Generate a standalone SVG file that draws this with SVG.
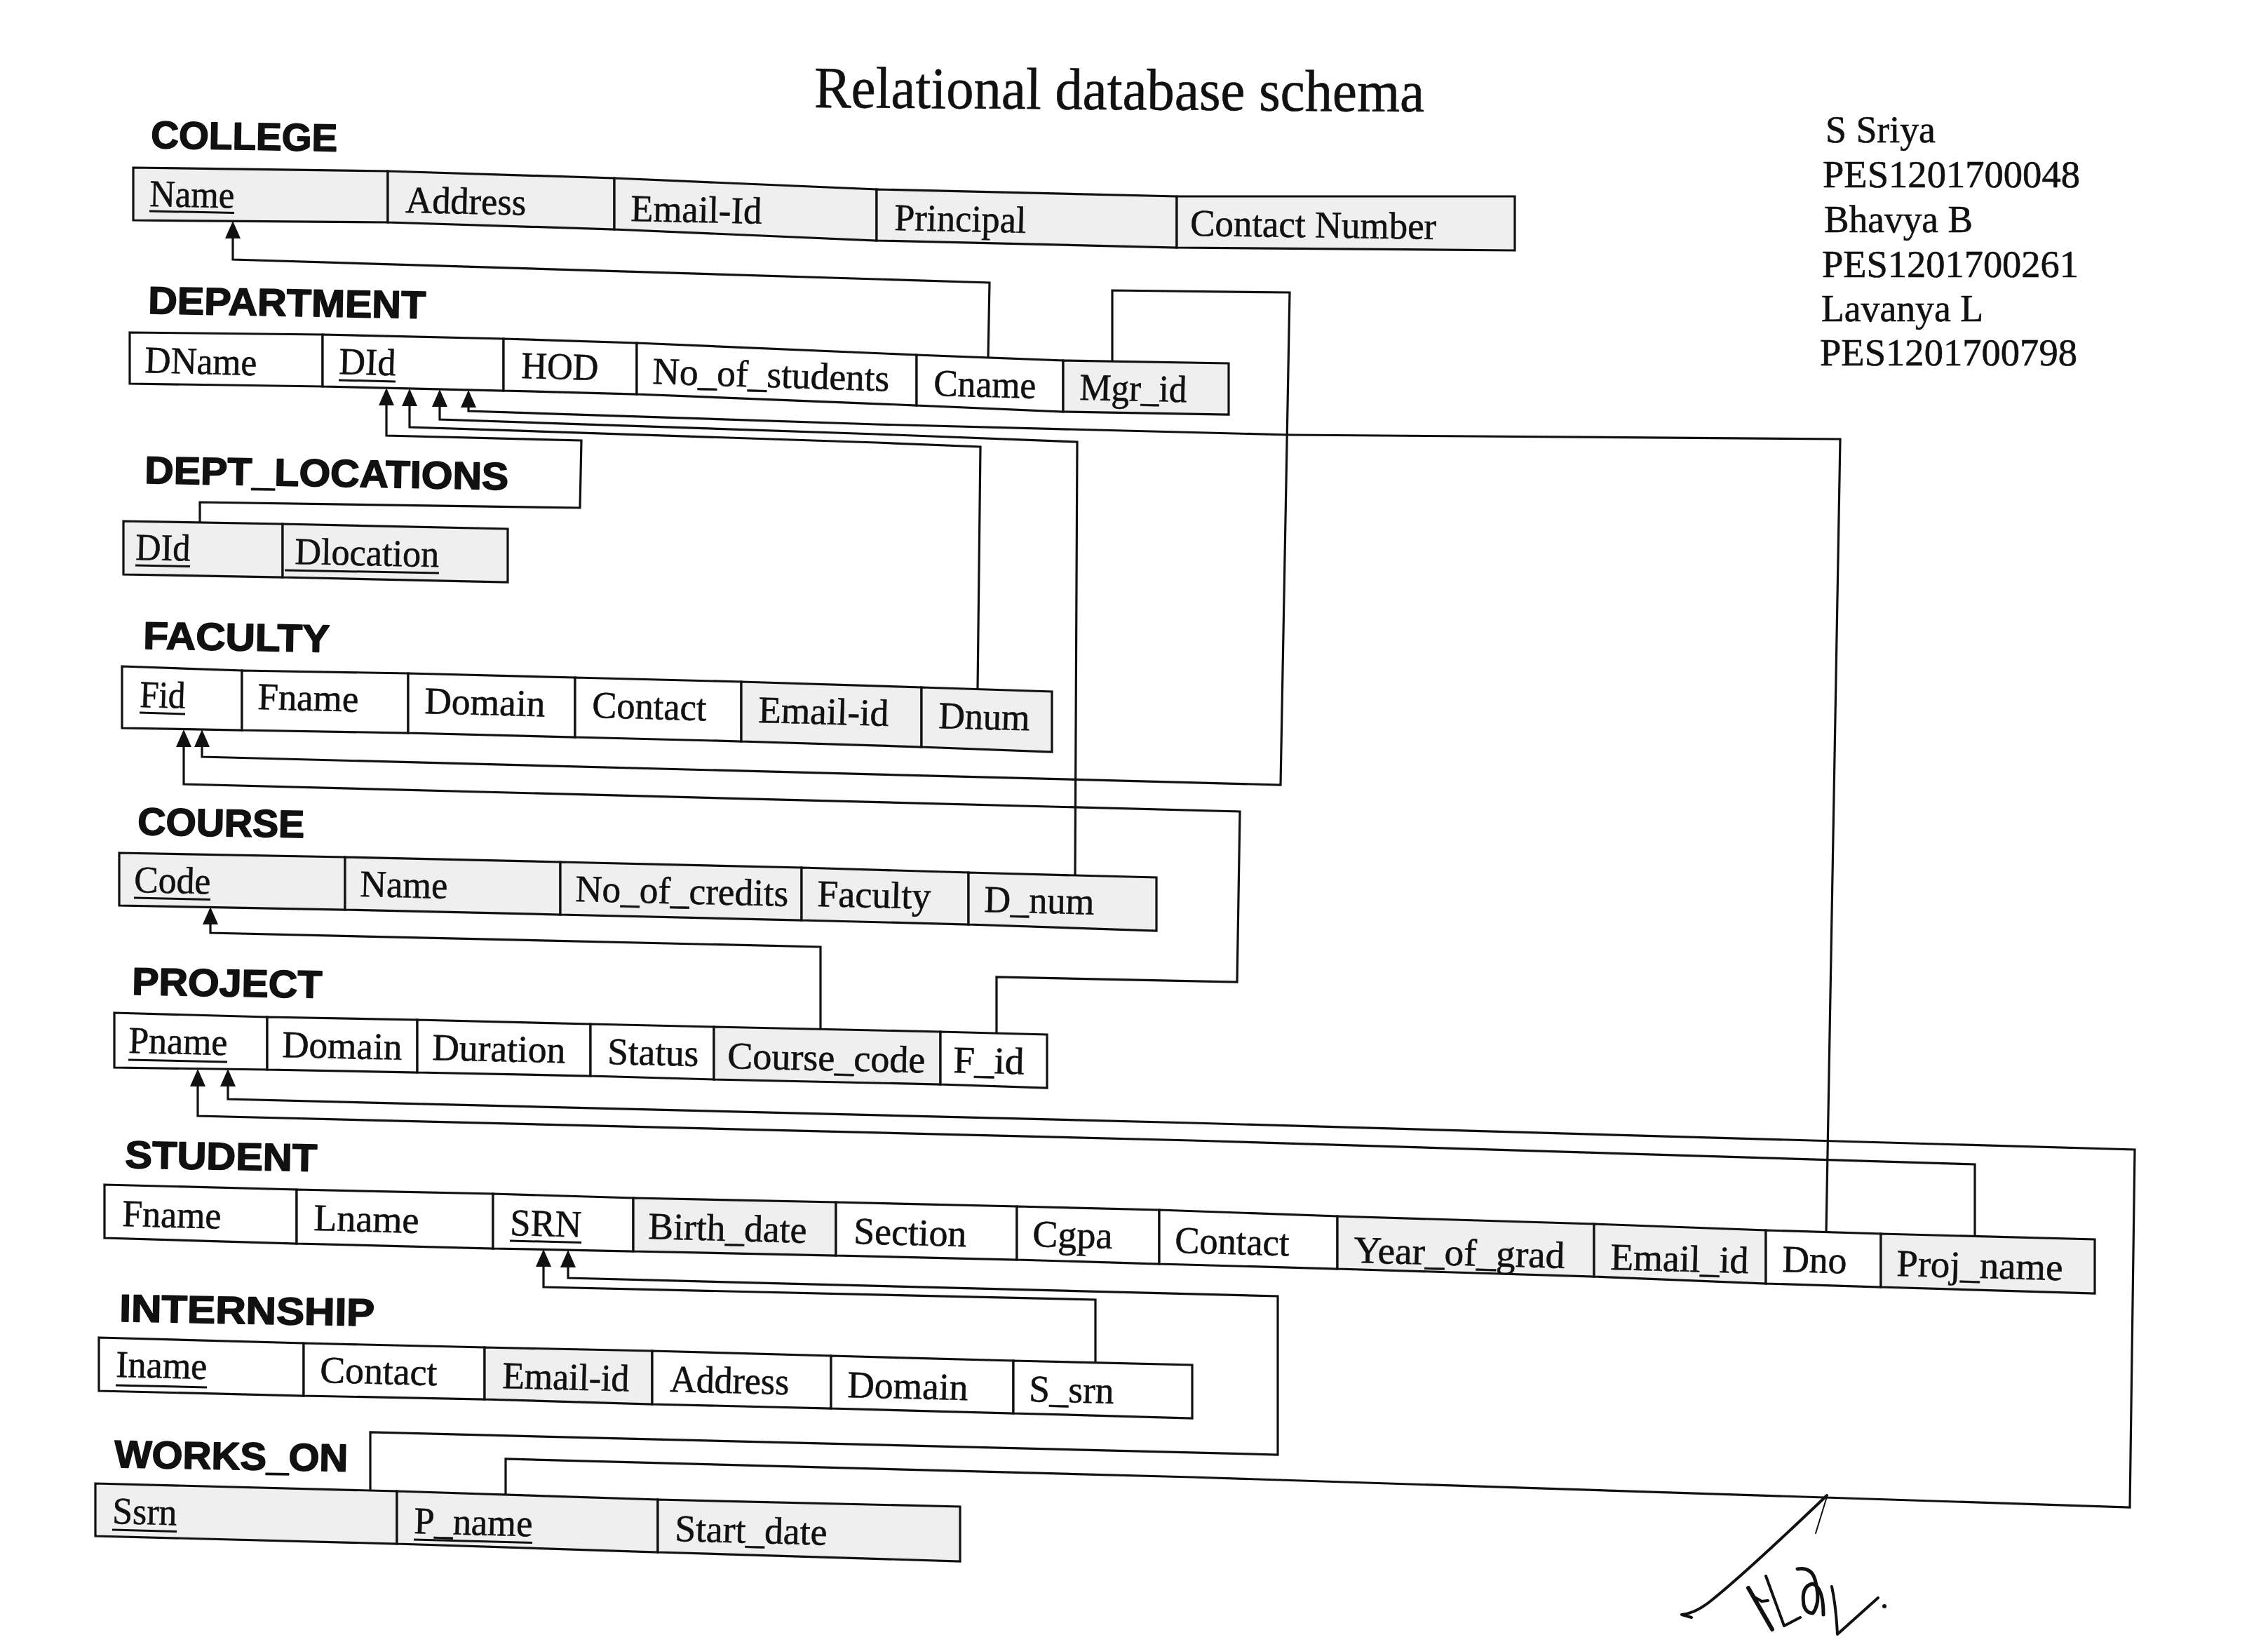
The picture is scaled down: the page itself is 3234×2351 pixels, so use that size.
<svg xmlns="http://www.w3.org/2000/svg" width="3234" height="2351" viewBox="0 0 3234 2351">
<style>
.c{stroke:#111;stroke-width:3.2;stroke-linejoin:miter}
.w{fill:#ffffff}
.g{fill:#efefef}
.t{font-family:"Liberation Serif","Times New Roman",serif;font-size:54px;fill:#111;stroke:#111;stroke-width:0.6px}
.h{font-family:"Liberation Sans",Arial,sans-serif;font-weight:bold;font-size:55px;fill:#111;stroke:#111;stroke-width:1.6px;stroke-linejoin:round}
.u{stroke:#111;stroke-width:3}
.k{fill:none;stroke:#111;stroke-width:3.2;stroke-linejoin:miter}
.sig{fill:none;stroke:#111;stroke-width:4;stroke-linecap:round;stroke-linejoin:round}
</style>
<defs>
<marker id="ah" viewBox="0 0 25 22" refX="19" refY="11" markerUnits="userSpaceOnUse" markerWidth="25" markerHeight="22" orient="auto">
<path d="M0,0 L25,11 L0,22 z" fill="#111"/>
</marker>
</defs>
<rect width="3234" height="2351" fill="#ffffff"/>

<g id="title">
<text class="t" x="1161" y="153" style="font-size:84px" textLength="870" lengthAdjust="spacingAndGlyphs" transform="rotate(0.4 1161 153)">Relational database schema</text>
</g>

<g id="authors" class="t">
<text x="2603" y="203" textLength="157" lengthAdjust="spacingAndGlyphs">S Sriya</text>
<text x="2599" y="267" textLength="367" lengthAdjust="spacingAndGlyphs">PES1201700048</text>
<text x="2601" y="331" textLength="212" lengthAdjust="spacingAndGlyphs">Bhavya B</text>
<text x="2598" y="395" textLength="366" lengthAdjust="spacingAndGlyphs">PES1201700261</text>
<text x="2597" y="458" textLength="231" lengthAdjust="spacingAndGlyphs">Lavanya L</text>
<text x="2595" y="521" textLength="367" lengthAdjust="spacingAndGlyphs">PES1201700798</text>
</g>

<g id="connectors">
<path class="k" marker-end="url(#ah)" d="M1409,510 L1411,403 L1250,398 L332,370 L332,321"/>
<path class="k" marker-end="url(#ah)" d="M285,745 L285,716 L827,724 L829,628 L551,621 L551,559"/>
<path class="k" marker-end="url(#ah)" d="M1394,983 L1398,637 L1250,631 L584,609 L584,560"/>
<path class="k" marker-end="url(#ah)" d="M1533,1248 L1536,630 L1250,619 L627,598 L627,561"/>
<path class="k" marker-end="url(#ah)" d="M2604,1757 L2624,626 L1839,620 L1250,605 L668,586 L668,562"/>
<path class="k" marker-end="url(#ah)" d="M1586,515 L1586,414 L1839,417 L1826,1119 L288,1079 L288,1046"/>
<path class="k" marker-end="url(#ah)" d="M1421,1473 L1421,1393 L1764,1400 L1768,1157 L262,1118 L262,1046"/>
<path class="k" marker-end="url(#ah)" d="M1170,1467 L1170,1350 L300,1330 L300,1299"/>
<path class="k" marker-end="url(#ah)" d="M2816,1762 L2816,1660 L1700,1626 L282,1591 L282,1530"/>
<path class="k" marker-end="url(#ah)" d="M721,2131 L721,2080 L1700,2106 L3037,2149 L3044,1639 L1700,1601 L325,1567 L325,1530"/>
<path class="k" marker-end="url(#ah)" d="M1562,1943 L1562,1853 L775,1835 L775,1787"/>
<path class="k" marker-end="url(#ah)" d="M528,2125 L528,2042 L1822,2074 L1822,1848 L810,1822 L810,1788"/>
</g>

<g id="college">
<text class="h" x="215" y="211" textLength="266" lengthAdjust="spacingAndGlyphs" transform="rotate(1 215 211)">COLLEGE</text>
<polygon class="c g" points="190,239 553,244 553,317 190,314"/>
<polygon class="c g" points="553,244 876,254 876,327 553,317"/>
<polygon class="c g" points="876,254 1250,270 1250,343 876,327"/>
<polygon class="c g" points="1250,270 1678,280 1678,353 1250,343"/>
<polygon class="c g" points="1678,280 2160,280 2160,357 1678,353"/>
<text class="t" x="213" y="294" textLength="121" lengthAdjust="spacingAndGlyphs" transform="rotate(1.2 213 294)">Name</text>
<line class="u" x1="213" y1="301" x2="334" y2="303.5"/>
<text class="t" x="578" y="303" textLength="172" lengthAdjust="spacingAndGlyphs" transform="rotate(1.2 578 303)">Address</text>
<text class="t" x="899" y="315" textLength="187" lengthAdjust="spacingAndGlyphs" transform="rotate(1.2 899 315)">Email-Id</text>
<text class="t" x="1275" y="328" textLength="188" lengthAdjust="spacingAndGlyphs" transform="rotate(1.2 1275 328)">Principal</text>
<text class="t" x="1697" y="336" textLength="351" lengthAdjust="spacingAndGlyphs" transform="rotate(0.8 1697 336)">Contact Number</text>
</g>

<g id="department">
<text class="h" x="211" y="447" textLength="396" lengthAdjust="spacingAndGlyphs" transform="rotate(1 211 447)">DEPARTMENT</text>
<polygon class="c w" points="185,474 460,477 460,551 185,547"/>
<polygon class="c w" points="460,477 718,483 718,557 460,551"/>
<polygon class="c w" points="718,483 908,489 908,562 718,557"/>
<polygon class="c w" points="908,489 1307,506 1307,578 908,562"/>
<polygon class="c w" points="1307,506 1516,514 1516,587 1307,578"/>
<polygon class="c g" points="1516,514 1752,518 1752,591 1516,587"/>
<text class="t" x="206" y="531" textLength="160" lengthAdjust="spacingAndGlyphs" transform="rotate(1.5 206 531)">DName</text>
<text class="t" x="483" y="533" textLength="81" lengthAdjust="spacingAndGlyphs" transform="rotate(1.5 483 533)">DId</text>
<line class="u" x1="483" y1="542" x2="564" y2="544"/>
<text class="t" x="743" y="539" textLength="110" lengthAdjust="spacingAndGlyphs" transform="rotate(1.5 743 539)">HOD</text>
<text class="t" x="930" y="547" textLength="338" lengthAdjust="spacingAndGlyphs" transform="rotate(1.8 930 547)">No_of_students</text>
<text class="t" x="1331" y="564" textLength="146" lengthAdjust="spacingAndGlyphs" transform="rotate(1.5 1331 564)">Cname</text>
<text class="t" x="1539" y="570" textLength="153" lengthAdjust="spacingAndGlyphs" transform="rotate(1.2 1539 570)">Mgr_id</text>
</g>

<g id="dept_locations">
<text class="h" x="206" y="689" textLength="519" lengthAdjust="spacingAndGlyphs" transform="rotate(1 206 689)">DEPT_LOCATIONS</text>
<polygon class="c g" points="176,743 403,747 403,823 176,819"/>
<polygon class="c g" points="403,747 724,754 724,830 403,823"/>
<text class="t" x="193" y="798" textLength="78" lengthAdjust="spacingAndGlyphs" transform="rotate(1.2 193 798)">DId</text>
<line class="u" x1="193" y1="806" x2="271" y2="807.5"/>
<text class="t" x="420" y="804" textLength="206" lengthAdjust="spacingAndGlyphs" transform="rotate(1.2 420 804)">Dlocation</text>
<line class="u" x1="406" y1="813" x2="626" y2="817"/>
</g>

<g id="faculty">
<text class="h" x="204" y="925" textLength="266" lengthAdjust="spacingAndGlyphs" transform="rotate(1 204 925)">FACULTY</text>
<polygon class="c w" points="174,950 345,956 345,1041 174,1038"/>
<polygon class="c w" points="345,956 582,960 582,1045 345,1041"/>
<polygon class="c w" points="582,960 820,966 820,1051 582,1045"/>
<polygon class="c w" points="820,966 1057,972 1057,1057 820,1051"/>
<polygon class="c g" points="1057,972 1314,980 1314,1065 1057,1057"/>
<polygon class="c g" points="1314,980 1500,986 1500,1072 1314,1065"/>
<text class="t" x="199" y="1008" textLength="65" lengthAdjust="spacingAndGlyphs" transform="rotate(1.5 199 1008)">Fid</text>
<line class="u" x1="199" y1="1016" x2="264" y2="1018"/>
<text class="t" x="367" y="1011" textLength="144" lengthAdjust="spacingAndGlyphs" transform="rotate(1.5 367 1011)">Fname</text>
<text class="t" x="605" y="1017" textLength="172" lengthAdjust="spacingAndGlyphs" transform="rotate(1.5 605 1017)">Domain</text>
<text class="t" x="844" y="1023" textLength="163" lengthAdjust="spacingAndGlyphs" transform="rotate(1.5 844 1023)">Contact</text>
<text class="t" x="1081" y="1030" textLength="186" lengthAdjust="spacingAndGlyphs" transform="rotate(1.5 1081 1030)">Email-id</text>
<text class="t" x="1338" y="1038" textLength="130" lengthAdjust="spacingAndGlyphs" transform="rotate(1.5 1338 1038)">Dnum</text>
</g>

<g id="course">
<text class="h" x="196" y="1190" textLength="238" lengthAdjust="spacingAndGlyphs" transform="rotate(1 196 1190)">COURSE</text>
<polygon class="c g" points="170,1216 492,1222 492,1297 170,1291"/>
<polygon class="c g" points="492,1222 799,1229 799,1304 492,1297"/>
<polygon class="c g" points="799,1229 1143,1237 1143,1312 799,1304"/>
<polygon class="c g" points="1143,1237 1381,1244 1381,1318 1143,1312"/>
<polygon class="c g" points="1381,1244 1649,1251 1649,1327 1381,1318"/>
<text class="t" x="191" y="1272" textLength="109" lengthAdjust="spacingAndGlyphs" transform="rotate(1.3 191 1272)">Code</text>
<line class="u" x1="191" y1="1280" x2="300" y2="1282.5"/>
<text class="t" x="513" y="1278" textLength="125" lengthAdjust="spacingAndGlyphs" transform="rotate(1.3 513 1278)">Name</text>
<text class="t" x="820" y="1285" textLength="304" lengthAdjust="spacingAndGlyphs" transform="rotate(1.3 820 1285)">No_of_credits</text>
<text class="t" x="1165" y="1292" textLength="162" lengthAdjust="spacingAndGlyphs" transform="rotate(1.3 1165 1292)">Faculty</text>
<text class="t" x="1403" y="1300" textLength="157" lengthAdjust="spacingAndGlyphs" transform="rotate(1.3 1403 1300)">D_num</text>
</g>

<g id="project">
<text class="h" x="188" y="1418" textLength="271" lengthAdjust="spacingAndGlyphs" transform="rotate(1 188 1418)">PROJECT</text>
<polygon class="c w" points="163,1444 381,1450 381,1525 163,1522"/>
<polygon class="c w" points="381,1450 595,1454 595,1529 381,1525"/>
<polygon class="c w" points="595,1454 842,1460 842,1534 595,1529"/>
<polygon class="c w" points="842,1460 1018,1464 1018,1539 842,1534"/>
<polygon class="c g" points="1018,1464 1341,1471 1341,1546 1018,1539"/>
<polygon class="c w" points="1341,1471 1493,1475 1493,1551 1341,1546"/>
<text class="t" x="183" y="1501" textLength="141" lengthAdjust="spacingAndGlyphs" transform="rotate(1.3 183 1501)">Pname</text>
<line class="u" x1="183" y1="1511" x2="324" y2="1514"/>
<text class="t" x="402" y="1507" textLength="171" lengthAdjust="spacingAndGlyphs" transform="rotate(1.3 402 1507)">Domain</text>
<text class="t" x="616" y="1511" textLength="190" lengthAdjust="spacingAndGlyphs" transform="rotate(1.3 616 1511)">Duration</text>
<text class="t" x="866" y="1517" textLength="130" lengthAdjust="spacingAndGlyphs" transform="rotate(1.3 866 1517)">Status</text>
<text class="t" x="1037" y="1523" textLength="282" lengthAdjust="spacingAndGlyphs" transform="rotate(1.3 1037 1523)">Course_code</text>
<text class="t" x="1359" y="1529" textLength="101" lengthAdjust="spacingAndGlyphs" transform="rotate(1.3 1359 1529)">F_id</text>
</g>

<g id="student">
<text class="h" x="178" y="1665" textLength="274" lengthAdjust="spacingAndGlyphs" transform="rotate(1 178 1665)">STUDENT</text>
<polygon class="c w" points="149,1689 423,1696 423,1773 149,1765"/>
<polygon class="c w" points="423,1696 703,1702 703,1780 423,1773"/>
<polygon class="c w" points="703,1702 903,1708 903,1784 703,1780"/>
<polygon class="c g" points="903,1708 1192,1714 1192,1790 903,1784"/>
<polygon class="c w" points="1192,1714 1450,1720 1450,1796 1192,1790"/>
<polygon class="c w" points="1450,1720 1653,1725 1653,1802 1450,1796"/>
<polygon class="c w" points="1653,1725 1907,1734 1907,1809 1653,1802"/>
<polygon class="c g" points="1907,1734 2273,1745 2273,1820 1907,1809"/>
<polygon class="c g" points="2273,1745 2518,1754 2518,1830 2273,1820"/>
<polygon class="c w" points="2518,1754 2682,1759 2682,1835 2518,1830"/>
<polygon class="c g" points="2682,1759 2987,1767 2987,1844 2682,1835"/>
<text class="t" x="174" y="1748" textLength="141" lengthAdjust="spacingAndGlyphs" transform="rotate(1.5 174 1748)">Fname</text>
<text class="t" x="447" y="1754" textLength="150" lengthAdjust="spacingAndGlyphs" transform="rotate(1.5 447 1754)">Lname</text>
<text class="t" x="727" y="1761" textLength="102" lengthAdjust="spacingAndGlyphs" transform="rotate(1.5 727 1761)">SRN</text>
<line class="u" x1="727" y1="1769" x2="829" y2="1771.5"/>
<text class="t" x="924" y="1766" textLength="226" lengthAdjust="spacingAndGlyphs" transform="rotate(1.5 924 1766)">Birth_date</text>
<text class="t" x="1217" y="1773" textLength="161" lengthAdjust="spacingAndGlyphs" transform="rotate(1.5 1217 1773)">Section</text>
<text class="t" x="1472" y="1777" textLength="114" lengthAdjust="spacingAndGlyphs" transform="rotate(1.5 1472 1777)">Cgpa</text>
<text class="t" x="1675" y="1786" textLength="163" lengthAdjust="spacingAndGlyphs" transform="rotate(1.5 1675 1786)">Contact</text>
<text class="t" x="1930" y="1800" textLength="301" lengthAdjust="spacingAndGlyphs" transform="rotate(1.5 1930 1800)">Year_of_grad</text>
<text class="t" x="2296" y="1810" textLength="197" lengthAdjust="spacingAndGlyphs" transform="rotate(1.5 2296 1810)">Email_id</text>
<text class="t" x="2541" y="1813" textLength="92" lengthAdjust="spacingAndGlyphs" transform="rotate(1.5 2541 1813)">Dno</text>
<text class="t" x="2704" y="1819" textLength="237" lengthAdjust="spacingAndGlyphs" transform="rotate(1.5 2704 1819)">Proj_name</text>
</g>

<g id="internship">
<text class="h" x="170" y="1884" textLength="364" lengthAdjust="spacingAndGlyphs" transform="rotate(1 170 1884)">INTERNSHIP</text>
<polygon class="c w" points="141,1907 433,1915 433,1990 141,1983"/>
<polygon class="c w" points="433,1915 691,1921 691,1995 433,1990"/>
<polygon class="c g" points="691,1921 930,1926 930,2002 691,1995"/>
<polygon class="c w" points="930,1926 1185,1933 1185,2008 930,2002"/>
<polygon class="c w" points="1185,1933 1445,1940 1445,2015 1185,2008"/>
<polygon class="c w" points="1445,1940 1700,1946 1700,2022 1445,2015"/>
<text class="t" x="165" y="1963" textLength="130" lengthAdjust="spacingAndGlyphs" transform="rotate(1.4 165 1963)">Iname</text>
<line class="u" x1="165" y1="1975" x2="295" y2="1978"/>
<text class="t" x="456" y="1971" textLength="167" lengthAdjust="spacingAndGlyphs" transform="rotate(1.4 456 1971)">Contact</text>
<text class="t" x="716" y="1979" textLength="181" lengthAdjust="spacingAndGlyphs" transform="rotate(1.4 716 1979)">Email-id</text>
<text class="t" x="955" y="1984" textLength="170" lengthAdjust="spacingAndGlyphs" transform="rotate(1.4 955 1984)">Address</text>
<text class="t" x="1208" y="1992" textLength="172" lengthAdjust="spacingAndGlyphs" transform="rotate(1.4 1208 1992)">Domain</text>
<text class="t" x="1467" y="1998" textLength="121" lengthAdjust="spacingAndGlyphs" transform="rotate(1.4 1467 1998)">S_srn</text>
</g>

<g id="works_on">
<text class="h" x="163" y="2092" textLength="333" lengthAdjust="spacingAndGlyphs" transform="rotate(1 163 2092)">WORKS_ON</text>
<polygon class="c g" points="136,2115 566,2126 566,2201 136,2190"/>
<polygon class="c g" points="566,2126 938,2138 938,2213 566,2201"/>
<polygon class="c g" points="938,2138 1369,2148 1369,2226 938,2213"/>
<text class="t" x="160" y="2172" textLength="92" lengthAdjust="spacingAndGlyphs" transform="rotate(1.5 160 2172)">Ssrn</text>
<line class="u" x1="160" y1="2181" x2="252" y2="2183.5"/>
<text class="t" x="590" y="2186" textLength="169" lengthAdjust="spacingAndGlyphs" transform="rotate(1.5 590 2186)">P_name</text>
<line class="u" x1="590" y1="2195" x2="759" y2="2199.5"/>
<text class="t" x="962" y="2197" textLength="217" lengthAdjust="spacingAndGlyphs" transform="rotate(1.5 962 2197)">Start_date</text>
</g>

<g id="signature">
<path class="sig" d="M2605,2132 C2560,2175 2480,2250 2440,2282 Q2418,2300 2398,2302 L2412,2306"/>
<path class="sig" style="stroke-width:2px" d="M2605,2134 L2589,2186"/>
<path class="sig" style="stroke-width:6px" d="M2493,2264 L2527,2323"/>
<path class="sig" d="M2500,2276 L2512,2283 L2521,2282"/>
<path class="sig" d="M2518,2247 L2544,2318 L2567,2306"/>
<path class="sig" style="stroke-width:5px" d="M2563,2237 Q2583,2234 2588,2252 Q2597,2285 2585,2300 Q2575,2300 2572,2288 Q2568,2262 2584,2258 Q2600,2262 2600,2302"/>
<path class="sig" d="M2612,2262 Q2618,2290 2620,2330 L2678,2278"/>
<circle cx="2687" cy="2290" r="3" fill="#111"/>
</g>
</svg>
